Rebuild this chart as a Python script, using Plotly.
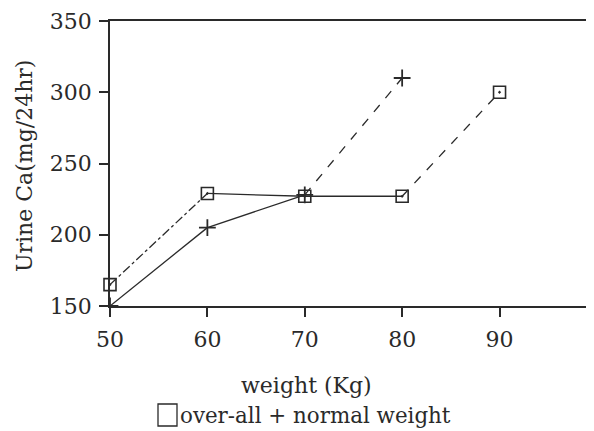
import plotly.graph_objects as go

weights = [50, 60, 70, 80, 90]
overall = [165, 229, 227, 227, 300]
normal_w = [50, 60, 70, 80]
normal = [150, 205, 228, 310]

x_ticks = [50, 60, 70, 80, 90]
y_ticks = [150, 200, 250, 300, 350]

INK = "#2a2a2a"
FONT = "DejaVu Serif"

OFF = 8  # default page body margin
W, H = 594 - OFF, 431 - OFF
L, R, T = 110 - OFF, 0, 21 - OFF
B = H - (306 - OFF)
PW, PH = W - L - R, H - T - B


def px_x(px):
    return (px - OFF - L) / PW


def px_y(py):
    return (H - B - (py - OFF)) / PH


fig = go.Figure()

# segment styles (visual only)
overall_dash = ["dashdot", "solid", "solid", "dash"]
normal_dash = ["solid", "solid", "dash"]

for i in range(len(weights) - 1):
    fig.add_trace(go.Scatter(x=weights[i:i + 2], y=overall[i:i + 2], mode="lines",
                             line=dict(color=INK, width=1.3, dash=overall_dash[i]),
                             showlegend=False, hoverinfo="skip", cliponaxis=False))
for i in range(len(normal_w) - 1):
    fig.add_trace(go.Scatter(x=normal_w[i:i + 2], y=normal[i:i + 2], mode="lines",
                             line=dict(color=INK, width=1.3, dash=normal_dash[i]),
                             showlegend=False, hoverinfo="skip", cliponaxis=False))

fig.add_trace(go.Scatter(x=weights, y=overall, mode="markers", name="over-all",
                         marker=dict(symbol="square-open-dot", size=12, color=INK,
                                     line=dict(width=1.6, color=INK)),
                         showlegend=False, cliponaxis=False))
fig.add_trace(go.Scatter(x=normal_w, y=normal, mode="markers", name="normal weight",
                         marker=dict(symbol="cross-thin", size=12, color=INK,
                                     line=dict(width=1.8, color=INK)),
                         showlegend=False, cliponaxis=False))

fig.update_layout(
    width=W, height=H,
    margin=dict(l=L, r=R, t=T, b=B, autoexpand=False),
    paper_bgcolor="white", plot_bgcolor="white",
    font=dict(family=FONT, color=INK, size=22),
    xaxis=dict(range=[50, 99.7], tickvals=x_ticks, ticks="outside", ticklen=9,
               tickwidth=1.5, tickcolor=INK, showline=True, linecolor=INK,
               linewidth=1.8, mirror=True, showgrid=False, zeroline=False,
               automargin=False, ticklabelstandoff=4, ticklabeloverflow="allow",
               tickfont=dict(size=22, family=FONT, color=INK)),
    yaxis=dict(range=[150, 350], tickvals=y_ticks, ticks="outside", ticklen=9,
               tickwidth=1.5, tickcolor=INK, showline=True, linecolor=INK,
               linewidth=1.8, showgrid=False, zeroline=False,
               automargin=False, ticklabelstandoff=3, ticklabeloverflow="allow",
               tickfont=dict(size=22, family=FONT, color=INK)),
    annotations=[
        dict(text="Urine Ca(mg/24hr)", xref="paper", yref="paper",
             x=px_x(24), y=px_y(166), textangle=-90, showarrow=False,
             xanchor="center", yanchor="middle",
             font=dict(size=22, family=FONT, color=INK)),
        dict(text="weight (Kg)", xref="paper", yref="paper", x=px_x(306), y=px_y(385),
             xanchor="center", yanchor="middle", showarrow=False,
             font=dict(size=22, family=FONT, color=INK)),
        dict(text="over-all + normal weight", xref="paper", yref="paper",
             x=px_x(178), y=px_y(415), xanchor="left", yanchor="middle", showarrow=False,
             font=dict(size=21.4, family=FONT, color=INK)),
    ],
    shapes=[
        dict(type="rect", xref="paper", yref="paper",
             x0=px_x(158), x1=px_x(177), y0=px_y(426), y1=px_y(404),
             line=dict(color=INK, width=1.3)),
    ],
)

fig.write_html("out.html")
